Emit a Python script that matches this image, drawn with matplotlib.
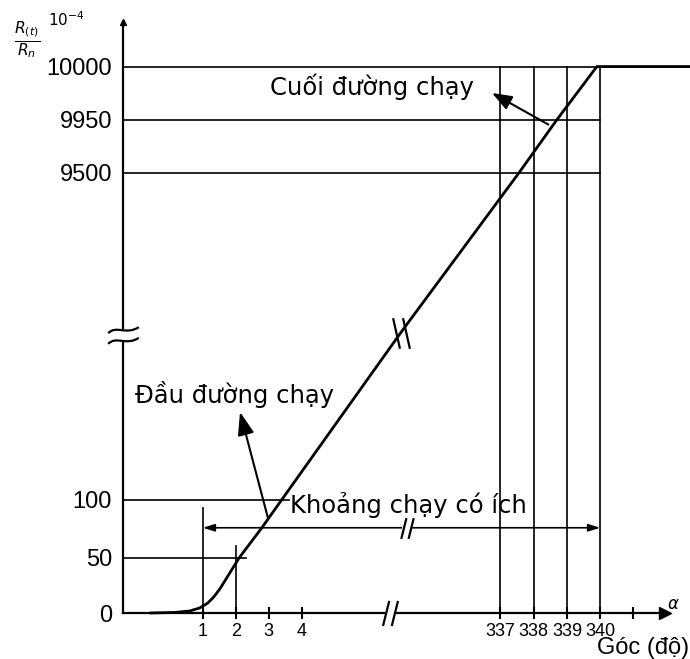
import numpy as np
import matplotlib
matplotlib.use('Agg')
import matplotlib.pyplot as plt
from matplotlib.path import Path

# ---- du lieu doc tu hinh ----
x_ticks = [1, 2, 3, 4, 337, 338, 339, 340, 341]
x_labels = ['1', '2', '3', '4', '337', '338', '339', '340', '']
y_ticks = [0, 50, 100, 9500, 9950, 10000]
y_labels = ['0', '50', '100', '9500', '9950', '10000']

# duong cong R(t)/Rn theo goc
curve_angle = [-0.6, 0.15, 0.6, 0.9, 1.15, 1.33, 1.52, 2.1, 2.79, 3.39, 7.0, 334.0, 337.56, 338.7, 339.9, 342.7]
curve_value = [0, 0.5, 1.8, 4.5, 9, 14.5, 22, 50, 76, 100, 4900, 4905, 9500, 9950, 10000, 10000]

# duong ke ngang: (gia tri, goc ket thuc)
h_values = [10000, 9950, 9500, 100, 50]
h_ends = [342.7, 340, 340, 3.6, 2.3]
# duong ke dung: (goc, gia tri tren)
v_angles = [1, 2, 337, 338, 339, 340]
v_tops = [93, 60, 10000, 10000, 10000, 10000]

useful_from, useful_to, useful_level = 1, 340, 76

# ---- thang do co ngat (broken axes) ----
XA = [-20, 7, 334, 360]
XU = [-490, 401, 401.1, 1265.9]
YV = [-200, 0, 50, 100, 9500, 9950, 10000, 10200]
YU = [-220, 0, 55, 113, 440, 493, 546, 758]


def fx(a):
    return np.interp(a, XA, XU)


def ix(u):
    return np.interp(u, XU, XA)


def fy(v):
    return np.interp(v, YV, YU)


def iy(u):
    return np.interp(u, YU, YV)


W, H = 690, 659
fig = plt.figure(figsize=(W / 100, H / 100), dpi=100)
ax = fig.add_axes([123 / W, 46 / H, 542 / W, 591 / H])
ax.set_xscale('function', functions=(fx, ix))
ax.set_yscale('function', functions=(fy, iy))
xmin, xmax = -1.42, 341.95
ax.set_xlim(xmin, xmax)
ax.set_ylim(0, 10042)

for s in ['top', 'right']:
    ax.spines[s].set_visible(False)
for s in ['left', 'bottom']:
    ax.spines[s].set_linewidth(1.6)
ax.plot(1, 0, '>k', ms=8, transform=ax.transAxes, clip_on=False)
ax.plot(0, 1, '^k', ms=5, transform=ax.transAxes, clip_on=False)

ax.set_xticks(x_ticks)
ax.set_xticklabels(x_labels, fontfamily='Liberation Sans', fontsize=13)
ax.set_yticks(y_ticks)
ax.set_yticklabels(y_labels, fontfamily='Liberation Sans', fontsize=17)
ax.xaxis.set_minor_locator(matplotlib.ticker.NullLocator())
ax.yaxis.set_minor_locator(matplotlib.ticker.NullLocator())
ax.tick_params(axis='x', direction='inout', length=8, width=1.5, pad=3)
ax.tick_params(axis='y', length=0, pad=8)

# luoi
for v, e in zip(h_values, h_ends):
    ax.plot([xmin, e], [v, v], color='k', lw=1.2, clip_on=False)
for a, t in zip(v_angles, v_tops):
    ax.plot([a, a], [0, t], color='k', lw=1.2)

# duong cong
ax.plot(curve_angle, curve_value, color='k', lw=2.0, clip_on=False, solid_capstyle='round')

# khoang chay co ich
ax.annotate('', xy=(useful_to, useful_level), xytext=(useful_from, useful_level),
            arrowprops=dict(arrowstyle='<|-|>,head_length=0.7,head_width=0.22',
                            color='k', lw=1.2, shrinkA=0, shrinkB=0))

# mui ten chu thich
ax.annotate('', xy=(0.2159, 0.3401), xycoords='axes fraction',
            xytext=(2.97, 85), textcoords='data',
            arrowprops=dict(arrowstyle='-|>,head_length=1.4,head_width=0.5',
                            color='k', lw=1.5, shrinkA=0, shrinkB=0))
ax.annotate('', xy=(0.6808, 0.8799), xycoords='axes fraction',
            xytext=(338.44, 9908), textcoords='data',
            arrowprops=dict(arrowstyle='-|>,head_length=1.2,head_width=0.45',
                            color='k', lw=1.5, shrinkA=0, shrinkB=0))

# ky hieu ngat
M, L, C = Path.MOVETO, Path.LINETO, Path.CURVE4
slash = Path([(-0.6, -1), (-0.1, 1), (0.1, -1), (0.6, 1)], [M, L, M, L])
tilt = Path([(-0.55, 1), (-0.1, -1), (0.1, 1), (0.55, -1)], [M, L, M, L])
wave = Path([(-1, 0.15), (-0.5, 0.7), (0.2, 0.0), (1, 0.55),
             (-1, -0.55), (-0.5, 0.0), (0.2, -0.7), (1, -0.15)],
            [M, C, C, C, M, C, C, C])

ax.plot(0, 4843, marker='|', ms=8, mew=4, color='white', transform=ax.get_yaxis_transform(),
        clip_on=False, zorder=5)
ax.plot(0, 4843, marker=wave, ms=22, mew=1.6, mfc='none', mec='k',
        transform=ax.get_yaxis_transform(), clip_on=False, zorder=6)
for a, v, mk, ms in [(6.67, 0, slash, 18), (334.2, useful_level, slash, 15)]:
    ax.plot(a, v, marker='_', ms=7, mew=4, color='white', clip_on=False, zorder=5)
    ax.plot(a, v, marker=mk, ms=ms, mew=1.6, mfc='none', mec='k', clip_on=False, zorder=6)
ax.plot(7.0, 4900, marker=tilt, ms=22, mew=1.6, mfc='none', mec='k', zorder=6)


def fp(x, y):
    return x / W, 1 - y / H


lab = dict(fontfamily='DejaVu Sans', fontsize=17.5, va='center', ha='left', transform=fig.transFigure)
fig.text(*fp(270, 87), 'Cuối đường chạy', **lab)
fig.text(*fp(135, 395), 'Đầu đường chạy', **lab)
fig.text(*fp(290, 505), 'Khoảng chạy có ích', **lab)
fig.text(*fp(689, 648), 'Góc (độ)', fontfamily='Liberation Sans', fontsize=17,
         va='center', ha='right', transform=fig.transFigure)
fig.text(*fp(667, 604), r'$\alpha$', fontsize=12, va='center', ha='left', transform=fig.transFigure)
fig.text(*fp(14, 40), r'$\frac{R_{(t)}}{R_n}$', fontsize=16, va='center', ha='left',
         transform=fig.transFigure)
fig.text(*fp(48, 20), r'$10^{-4}$', fontsize=11, va='center', ha='left', transform=fig.transFigure)

fig.savefig('out.png', dpi=100)
